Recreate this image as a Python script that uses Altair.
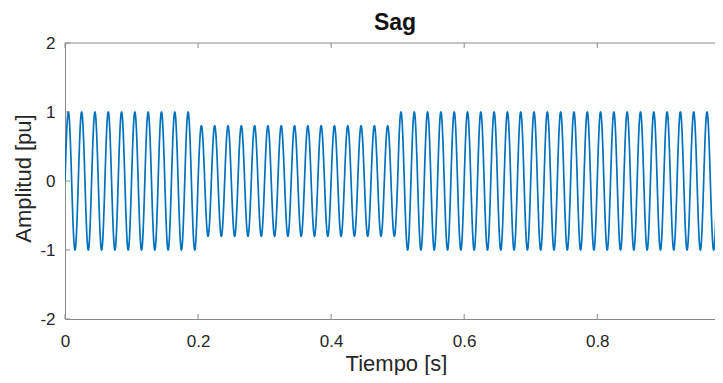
import altair as alt
import numpy as np
import pandas as pd

# ---- values ----
freq_hz = 50                      # 50 cycles per second
seg_start = [0.0, 0.2, 0.5]       # s
seg_end = [0.2, 0.5, 1.0]         # s
seg_amp = [1.0, 0.8, 1.0]         # pu (sag to 0.8 between 0.2 and 0.5 s)
x_ticks = [0, 0.2, 0.4, 0.6, 0.8]
y_ticks = [-2, -1, 0, 1, 2]
x_domain = [0, 0.977]             # the right end of the axis is cut off in the picture
y_domain = [-2, 2]

# ---- build the signal ----
t = np.linspace(0, 1, 8001)
amp = np.full_like(t, seg_amp[-1])
for s, e, a in zip(seg_start, seg_end, seg_amp):
    amp[(t >= s) & (t < e)] = a
v = amp * np.sin(2 * np.pi * freq_hz * t)
df = pd.DataFrame({"t": t, "v": v})

FONT = "Liberation Sans"
AX = "#8a8a8a"
TXT = "#262626"

line = alt.Chart(df).mark_line(color="#0072BD", strokeWidth=1.7, clip=True).encode(
    x=alt.X("t:Q",
            scale=alt.Scale(domain=x_domain, nice=False, zero=False),
            axis=alt.Axis(values=x_ticks, format=".1~f", title="Tiempo [s]",
                          labelPadding=14, labelFlush=False,
                          titleX=331, titleY=51,
                          titleBaseline="alphabetic", titleAlign="center")),
    y=alt.Y("v:Q",
            scale=alt.Scale(domain=y_domain, nice=False),
            axis=alt.Axis(values=y_ticks, labelExpr="'' + datum.value",
                          title="Amplitud [pu]", labelPadding=10, labelFlush=False,
                          titleX=-35, titleY=135, titleAngle=270,
                          titleBaseline="alphabetic", titleAlign="center")),
)

xt = pd.DataFrame({"t": x_ticks})
yt = pd.DataFrame({"v": y_ticks})

xtick_bottom = alt.Chart(xt).mark_rule(color=AX, strokeWidth=1).encode(
    x="t:Q", y=alt.value(276), y2=alt.value(271))
xtick_top = alt.Chart(xt).mark_rule(color=AX, strokeWidth=1).encode(
    x="t:Q", y=alt.value(0), y2=alt.value(5))
ytick_left = alt.Chart(yt).mark_rule(color=AX, strokeWidth=1).encode(
    y="v:Q", x=alt.value(0), x2=alt.value(5))
top_frame = alt.Chart(pd.DataFrame({"v": [y_domain[1]]})).mark_rule(color=AX, strokeWidth=1).encode(
    y="v:Q", x=alt.value(0), x2=alt.value("width"))

chart = alt.layer(line, xtick_bottom, xtick_top, ytick_left, top_frame).properties(
    width=650,
    height=276,
    autosize=alt.AutoSizeParams(type="none"),
    padding={"left": 57, "top": 35, "right": 0, "bottom": 56},
    title=alt.TitleParams("Sag", fontSize=23, fontWeight="bold", font=FONT,
                          color="#111111", anchor="middle", dx=5, offset=-1),
).configure_view(stroke=None).configure_axis(
    grid=False, tickSize=0, domainColor=AX, domainWidth=1,
    labelFont=FONT, labelFontSize=17, labelColor=TXT,
    titleFont=FONT, titleFontSize=22, titleFontWeight="normal", titleColor=TXT,
)

chart.save("out.html", embed_options={"renderer": "svg", "actions": False})
